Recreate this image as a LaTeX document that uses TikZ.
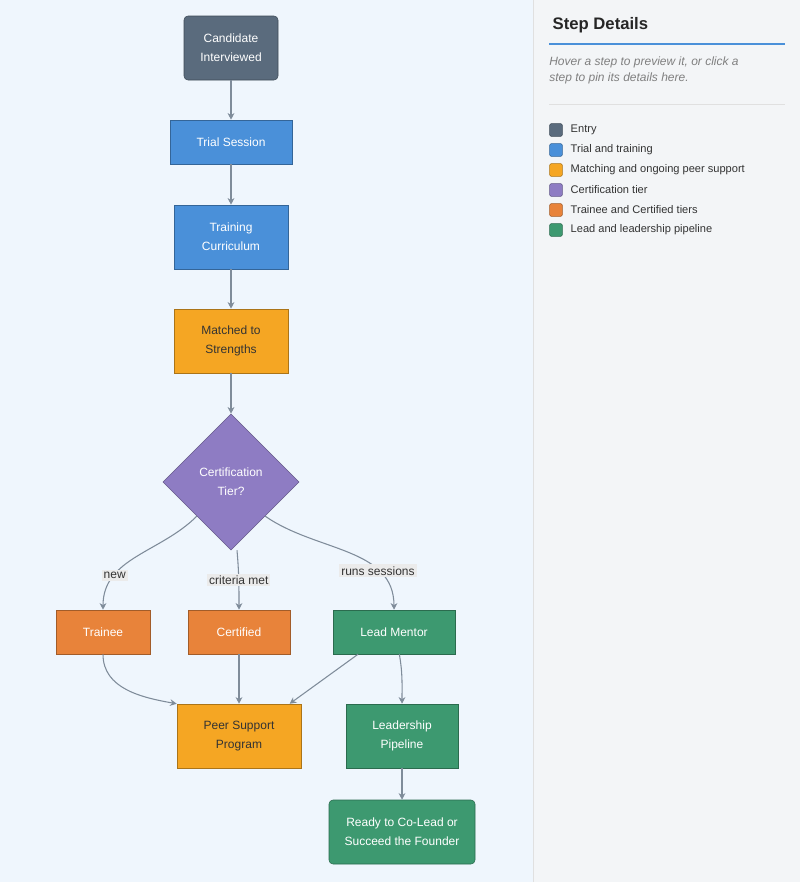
\documentclass[tikz,border=0pt]{standalone}
\usepackage{fontspec}
\setmainfont{Liberation Sans}
\usetikzlibrary{shapes.geometric,arrows.meta}

\definecolor{slate}{HTML}{5A6B7D}
\definecolor{trialblue}{HTML}{4A90D9}
\definecolor{matchgold}{HTML}{F5A623}
\definecolor{certpurple}{HTML}{8E7CC3}
\definecolor{tierorange}{HTML}{E8833A}
\definecolor{leadgreen}{HTML}{3D9970}
\definecolor{edgegray}{HTML}{7F8C9A}
\definecolor{leftbg}{HTML}{EFF6FD}
\definecolor{rightbg}{HTML}{F3F5F7}

\tikzset{
  box/.style={draw=#1!70!black, fill=#1, text=white, align=center,
    font=\fontsize{9}{14}\selectfont, minimum height=33pt, inner sep=2pt},
  lbl/.style={fill=black!8, text=black!80, font=\fontsize{9}{11}\selectfont, inner sep=1.5pt},
  link/.style={draw=edgegray, thick, -{Stealth[length=5pt,width=5pt]}},
  swatch/.style={draw=#1!70!black, fill=#1, minimum size=9.5pt, inner sep=0pt, rounded corners=1pt},
  legtext/.style={anchor=west, text=black!80, font=\fontsize{8.3}{10}\selectfont}
}

\begin{document}
\begin{tikzpicture}[x=0.75pt,y=-0.75pt]
    % Panels
    \useasboundingbox (0,0) rectangle (800,882);
    \fill[leftbg] (0,0) rectangle (533,882);
    \fill[rightbg] (533,0) rectangle (800,882);
    \draw[black!12] (533,0) -- (533,882);

    % Flow nodes
    \node[box=slate, minimum width=70.5pt, minimum height=48pt, rounded corners=3pt] (cand) at (231,48) {Candidate\\Interviewed};
    \node[box=trialblue, minimum width=91.5pt] (trial) at (231,142) {Trial Session};
    \node[box=trialblue, minimum width=85.5pt, minimum height=48pt] (train) at (231,237) {Training\\Curriculum};
    \node[box=matchgold, text=black!80, minimum width=85.5pt, minimum height=48pt] (match) at (231,341) {Matched to\\Strengths};
    \node[box=certpurple, diamond, minimum width=102pt, minimum height=102pt, inner sep=0pt] (tier) at (231,482) {Certification\\Tier?};
    \node[box=tierorange, minimum width=70.5pt] (trainee) at (103,632) {Trainee};
    \node[box=tierorange, minimum width=76.5pt] (cert) at (239,632) {Certified};
    \node[box=leadgreen, minimum width=91.5pt] (lead) at (394,632) {Lead Mentor};
    \node[box=matchgold, text=black!80, minimum width=93pt, minimum height=48pt] (peer) at (239,736) {Peer Support\\Program};
    \node[box=leadgreen, minimum width=84pt, minimum height=48pt] (pipe) at (402,736) {Leadership\\Pipeline};
    \node[box=leadgreen, minimum width=109.5pt, minimum height=48pt, rounded corners=3pt] (ready) at (402,832) {Ready to Co-Lead or\\Succeed the Founder};

    % Connectors
    \draw[link] (cand) -- (trial);
    \draw[link] (trial) -- (train);
    \draw[link] (train) -- (match);
    \draw[link] (match) -- (tier);
    \draw[link] (tier.south west) to[out=225,in=90] node[lbl, pos=0.72] {new} (trainee.north);
    \draw[link] (tier.south) ++(6,0) coordinate (tb) (tb) to[out=-85,in=90] node[lbl, pos=0.5] {criteria met} (cert.north);
    \draw[link] (tier.south east) to[out=-35,in=90] node[lbl, pos=0.72] {runs sessions} (lead.north);
    \draw[link] (trainee.south) to[out=-90,in=170] (peer.north west);
    \draw[link] (cert) -- (peer);
    \draw[link] ([xshift=-27pt]lead.south) coordinate (ls) -- ([xshift=38pt]peer.north);
    \draw[link] ([xshift=4pt]lead.south) to[out=-80,in=90] (pipe.north);
    \draw[link] (pipe) -- (ready);

    % Side panel
    \node[anchor=west, font=\bfseries\fontsize{12.5}{15}\selectfont, text=black!85] (title) at (548,25) {Step Details};
    \draw[trialblue, thick] (549,44) -- (785,44);
    \node[anchor=north west, align=left, text=black!50, font=\itshape\fontsize{9}{12}\selectfont, inner sep=0pt] (hint) at (549,57) {Hover a step to preview it, or click a\\step to pin its details here.};
    \draw[black!12] (549,104) -- (785,104);
    \foreach \c/\t [count=\i from 0] in {slate/Entry, trialblue/Trial and training, matchgold/Matching and ongoing peer support, certpurple/Certification tier, tierorange/Trainee and Certified tiers, leadgreen/Lead and leadership pipeline} {
        \node[swatch=\c] (sw\i) at (556,130+20*\i) {};
        \node[legtext] at (566,130+20*\i) {\t};
    }
\end{tikzpicture}
\end{document}
